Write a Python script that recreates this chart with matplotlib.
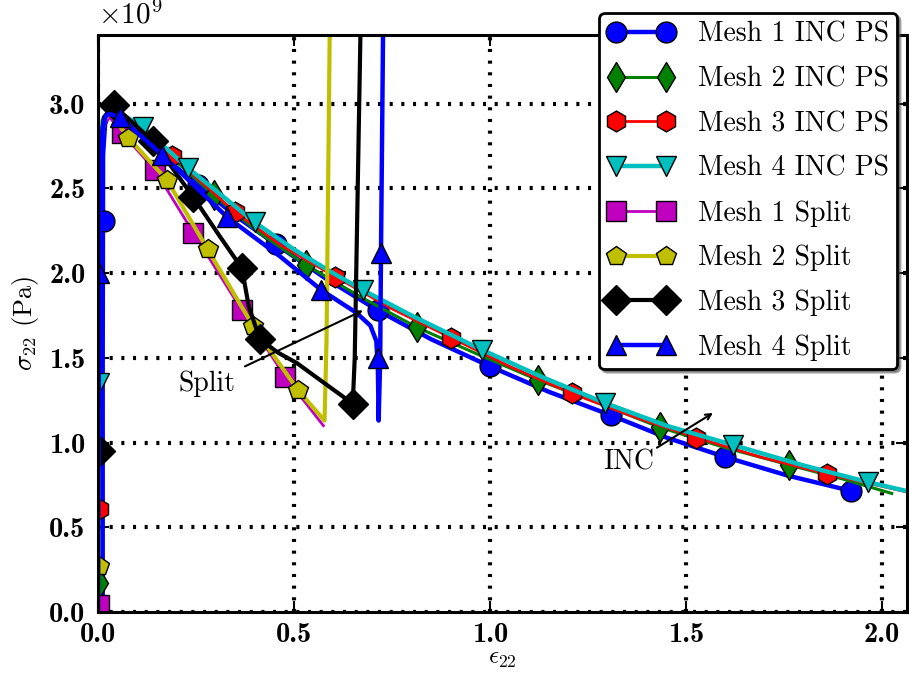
import matplotlib
matplotlib.use('Agg')
import matplotlib.pyplot as plt

plt.rcParams['font.family'] = 'serif'
plt.rcParams['font.serif'] = ['cmr10']
plt.rcParams['mathtext.fontset'] = 'cm'
plt.rcParams['axes.unicode_minus'] = False
plt.rcParams['lines.scale_dashes'] = False

# strain values and stress (in 1e9 Pa)
m1_inc_x = [0.012, 0.012, 0.013, 0.018, 0.028, 0.045, 0.08, 0.15, 0.255, 0.35, 0.454, 0.58, 0.714,
            0.85, 1.0, 1.15, 1.31, 1.45, 1.60, 1.76, 1.93]
m1_inc_y = [0.0, 1.5, 2.7, 2.88, 2.94, 2.94, 2.88, 2.72, 2.52, 2.34, 2.17, 1.97, 1.78,
            1.61, 1.45, 1.30, 1.16, 1.03, 0.915, 0.805, 0.71]
m1_inc_mx = [0.015, 0.255, 0.454, 0.714, 1.0, 1.31, 1.60, 1.92]
m1_inc_my = [2.31, 2.52, 2.17, 1.78, 1.45, 1.16, 0.915, 0.715]

m2_inc_x = [0.0, 0.0, 0.004, 0.012, 0.03, 0.07, 0.15, 0.296, 0.41, 0.53, 0.67, 0.814, 0.97,
            1.122, 1.28, 1.434, 1.6, 1.763, 1.9, 2.025]
m2_inc_y = [0.0, 1.0, 2.7, 2.9, 2.97, 2.92, 2.76, 2.46, 2.24, 2.05, 1.86, 1.68, 1.52,
            1.37, 1.23, 1.09, 0.97, 0.868, 0.785, 0.70]
m2_inc_mx = [0.003, 0.296, 0.53, 0.814, 1.122, 1.434, 1.763]
m2_inc_my = [0.17, 2.46, 2.05, 1.68, 1.37, 1.09, 0.868]

m3_inc_x = [0.0, 0.0, 0.004, 0.012, 0.03, 0.08, 0.19, 0.35, 0.47, 0.605, 0.75, 0.90, 1.05,
            1.21, 1.37, 1.526, 1.69, 1.86, 2.08]
m3_inc_y = [0.0, 1.0, 2.7, 2.9, 2.97, 2.88, 2.69, 2.36, 2.16, 1.98, 1.79, 1.62, 1.45,
            1.29, 1.15, 1.03, 0.915, 0.815, 0.70]
m3_inc_mx = [0.002, 0.19, 0.35, 0.605, 0.90, 1.21, 1.526, 1.86]
m3_inc_my = [0.61, 2.69, 2.36, 1.98, 1.62, 1.29, 1.03, 0.815]

m4_inc_x = [0.0, 0.0, 0.004, 0.012, 0.03, 0.06, 0.115, 0.23, 0.40, 0.5, 0.6, 0.676, 0.8, 0.98,
            1.13, 1.293, 1.45, 1.62, 1.8, 1.964, 2.08]
m4_inc_y = [0.0, 1.0, 2.7, 2.9, 2.97, 2.94, 2.86, 2.62, 2.30, 2.14, 2.00, 1.90, 1.75, 1.547,
            1.39, 1.234, 1.10, 0.986, 0.865, 0.767, 0.705]
m4_inc_mx = [0.003, 0.115, 0.23, 0.40, 0.676, 0.98, 1.293, 1.62, 1.964]
m4_inc_my = [1.35, 2.86, 2.62, 2.30, 1.90, 1.547, 1.234, 0.986, 0.767]

m1_spl_x = [0.0, 0.0, 0.004, 0.015, 0.03, 0.06, 0.145, 0.243, 0.367, 0.477, 0.575]
m1_spl_y = [0.0, 1.0, 2.7, 2.88, 2.92, 2.83, 2.61, 2.24, 1.78, 1.39, 1.10]
m1_spl_mx = [0.003, 0.06, 0.145, 0.243, 0.367, 0.477]
m1_spl_my = [0.04, 2.83, 2.61, 2.24, 1.78, 1.39]

m2_spl_x = [0.0, 0.0, 0.004, 0.015, 0.03, 0.077, 0.176, 0.28, 0.395, 0.51, 0.578, 0.583, 0.592]
m2_spl_y = [0.0, 1.0, 2.7, 2.9, 2.95, 2.80, 2.55, 2.14, 1.69, 1.31, 1.13, 1.6, 3.6]
m2_spl_mx = [0.002, 0.077, 0.176, 0.28, 0.395, 0.51]
m2_spl_my = [0.27, 2.80, 2.55, 2.14, 1.69, 1.31]

m3_spl_x = [0.0, 0.0, 0.004, 0.015, 0.04, 0.14, 0.243, 0.31, 0.367, 0.385, 0.413, 0.46, 0.507,
            0.59, 0.65, 0.655, 0.671]
m3_spl_y = [0.0, 0.9, 2.7, 2.92, 2.99, 2.78, 2.45, 2.22, 2.03, 1.80, 1.61, 1.53, 1.47,
            1.33, 1.23, 1.5, 3.6]
m3_spl_mx = [0.006, 0.04, 0.14, 0.243, 0.367, 0.413, 0.65]
m3_spl_my = [0.95, 2.99, 2.78, 2.45, 2.03, 1.61, 1.23]

m4_spl_x = [0.0, 0.003, 0.008, 0.012, 0.02, 0.03, 0.056, 0.163, 0.33, 0.464, 0.57, 0.66, 0.695,
            0.71, 0.714, 0.716, 0.72, 0.722, 0.728]
m4_spl_y = [0.0, 1.9, 2.7, 2.86, 2.93, 2.94, 2.92, 2.70, 2.33, 2.10, 1.90, 1.765, 1.69,
            1.60, 1.45, 1.13, 1.50, 2.12, 3.6]
m4_spl_mx = [0.002, 0.056, 0.163, 0.33, 0.57, 0.714, 0.722]
m4_spl_my = [2.0, 2.92, 2.70, 2.33, 1.90, 1.50, 2.12]

labels = ['Mesh 1 INC PS', 'Mesh 2 INC PS', 'Mesh 3 INC PS', 'Mesh 4 INC PS',
          'Mesh 1 Split', 'Mesh 2 Split', 'Mesh 3 Split', 'Mesh 4 Split']

series = [
    (m1_inc_x, m1_inc_y, m1_inc_mx, m1_inc_my, 'b', 'o', 15, 3.2),
    (m2_inc_x, m2_inc_y, m2_inc_mx, m2_inc_my, 'g', 'd', 15, 2.2),
    (m3_inc_x, m3_inc_y, m3_inc_mx, m3_inc_my, 'r', 'h', 15, 2.0),
    (m4_inc_x, m4_inc_y, m4_inc_mx, m4_inc_my, 'c', 'v', 15, 3.2),
    (m1_spl_x, m1_spl_y, m1_spl_mx, m1_spl_my, 'm', 's', 15, 2.0),
    (m2_spl_x, m2_spl_y, m2_spl_mx, m2_spl_my, 'y', 'p', 15, 3.0),
    (m3_spl_x, m3_spl_y, m3_spl_mx, m3_spl_my, 'k', 'D', 15, 3.0),
    (m4_spl_x, m4_spl_y, m4_spl_mx, m4_spl_my, 'b', '^', 15, 3.2),
]

fig = plt.figure(figsize=(9.09, 6.77), dpi=100)
ax = fig.add_axes([98 / 909, 65 / 677, 809 / 909, 577 / 677])

handles = []
for x, y, mx, my, col, mk, ms, lw in series:
    l, = ax.plot(x, y, '-', color=col, lw=lw)
    m, = ax.plot(mx, my, ls='none', marker=mk, ms=ms, mfc=col, mec='k', mew=1.0)
    handles.append((l, m))

# annotations
ax.annotate('', xy=(0.676, 1.78), xytext=(0.375, 1.45),
            arrowprops=dict(arrowstyle='->', color='k', lw=1.5, shrinkA=0, shrinkB=0))
ax.text(0.277, 1.35, 'Split', fontsize=20, ha='center', va='center')
ax.annotate('', xy=(1.569, 1.175), xytext=(1.426, 0.97),
            arrowprops=dict(arrowstyle='->', color='k', lw=1.5, shrinkA=0, shrinkB=0))
ax.text(1.355, 0.885, 'INC', fontsize=20, ha='center', va='center')

ax.set_xlim(0, 2.064)
ax.set_ylim(0, 3.406)
xt = [0.0, 0.5, 1.0, 1.5, 2.0]
yt = [0.0, 0.5, 1.0, 1.5, 2.0, 2.5, 3.0]
ax.set_xticks(xt)
ax.set_yticks(yt)
ax.set_xticklabels(['%.1f' % v for v in xt], family='cmb10', fontsize=20.5)
ax.set_yticklabels(['%.1f' % v for v in yt], family='cmb10', fontsize=20.5)
ax.tick_params(axis='y', direction='in', length=8, width=1.5, left=True, right=True, pad=9)
ax.tick_params(axis='x', direction='in', length=8, width=1.5, bottom=True, top=True, pad=7)
ax.grid(True, color='k', lw=3, linestyle=(0, (2.2, 6.2)))
for s in ax.spines.values():
    s.set_linewidth(2.2)

ax.text(0.0, 1.01, r'$\times10^{9}$', transform=ax.transAxes, fontsize=21, ha='left', va='bottom')
ax.set_xlabel(r'$\epsilon_{\mathbf{22}}$', fontsize=18, labelpad=0)
ax.set_ylabel(r'$\sigma_{\mathbf{22}}$ (Pa)', fontsize=19, labelpad=6)

leg = ax.legend(handles, labels, loc='upper right', bbox_to_anchor=(0.988, 1.038),
                borderaxespad=0, fontsize=20, numpoints=2, handlelength=2.4,
                handletextpad=0.85, labelspacing=0.66, borderpad=0.3,
                fancybox=True, shadow=True, framealpha=1)
leg.get_frame().set_edgecolor('k')
leg.get_frame().set_linewidth(2)

fig.savefig('out.png', dpi=100)
